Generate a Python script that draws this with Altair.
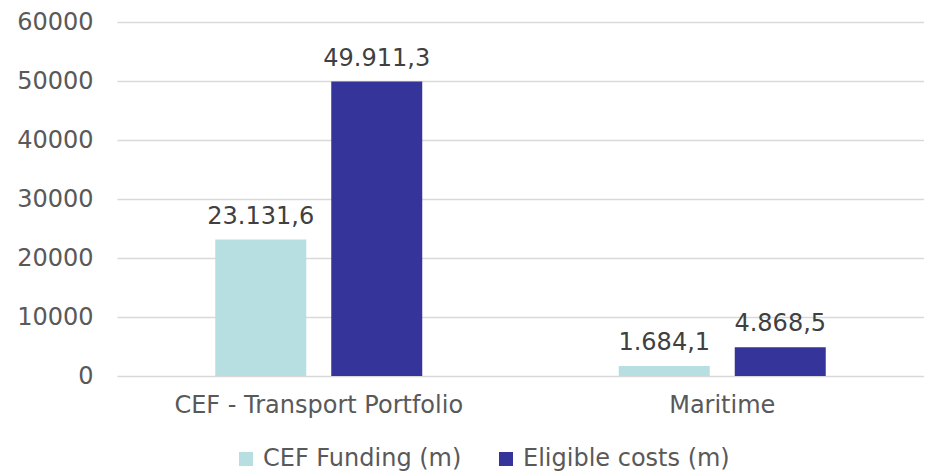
import altair as alt
import pandas as pd

categories = ["CEF - Transport Portfolio", "Maritime"]
series = ["CEF Funding (m)", "Eligible costs (m)"]
cef_funding = [23131.6, 1684.1]
eligible_costs = [49911.3, 4868.5]
colors = ["#b7dfe2", "#35349a"]
y_ticks = [0, 10000, 20000, 30000, 40000, 50000, 60000]


def eu(v):
    s = f"{v:,.1f}"
    return s.replace(",", "X").replace(".", ",").replace("X", ".")


rows = []
for i, c in enumerate(categories):
    for s, vals in zip(series, [cef_funding, eligible_costs]):
        rows.append({"cat": c, "series": s, "value": vals[i], "label": eu(vals[i])})
df = pd.DataFrame(rows)

FONT = "DejaVu Sans"
FS = 24

x = alt.X("cat:N", sort=categories, title=None,
          scale=alt.Scale(paddingInner=0, paddingOuter=0),
          axis=alt.Axis(labelAngle=0, labelFont=FONT, labelFontSize=FS,
                        labelColor="#595959", labelPadding=17, ticks=False,
                        domain=False, grid=False, labelLimit=600))
xo = alt.XOffset("series:N", sort=series,
                 scale=alt.Scale(paddingInner=0.2155, paddingOuter=0.847))
y = alt.Y("value:Q", title=None,
          scale=alt.Scale(domain=[0, 60000], nice=False),
          axis=alt.Axis(values=y_ticks, labelFont=FONT, labelFontSize=FS,
                        labelColor="#595959", labelPadding=24, ticks=False,
                        domain=False, gridColor="#d9d9d9", gridWidth=1.5,
                        format="d"))

bars = alt.Chart(df).mark_bar().encode(
    x=x, xOffset=xo, y=y,
    color=alt.Color("series:N", sort=series,
                    scale=alt.Scale(domain=series, range=colors),
                    legend=alt.Legend(title=None, orient="none", direction="horizontal",
                                      legendX=117, legendY=425,
                                      symbolType="square", symbolSize=196,
                                      symbolStrokeWidth=0, symbolOpacity=1,
                                      labelFont=FONT, labelFontSize=FS,
                                      labelColor="#595959", labelOffset=5,
                                      columnPadding=32, labelLimit=400)),
)

labels = alt.Chart(df).mark_text(font=FONT, fontSize=FS, color="#404040",
                                 baseline="alphabetic", dy=-16).encode(
    x=x, xOffset=xo, y=y, text="label:N"
)

chart = alt.layer(bars, labels).properties(
    width=807, height=354,
    background="white",
    autosize=alt.AutoSizeParams(type="none"),
    padding={"left": 109, "top": 14, "right": 0, "bottom": 100},
).configure_view(strokeWidth=0, stroke="transparent").configure_axisX(grid=False)

chart.save("out.html", embed_options={"renderer": "svg", "actions": False})
